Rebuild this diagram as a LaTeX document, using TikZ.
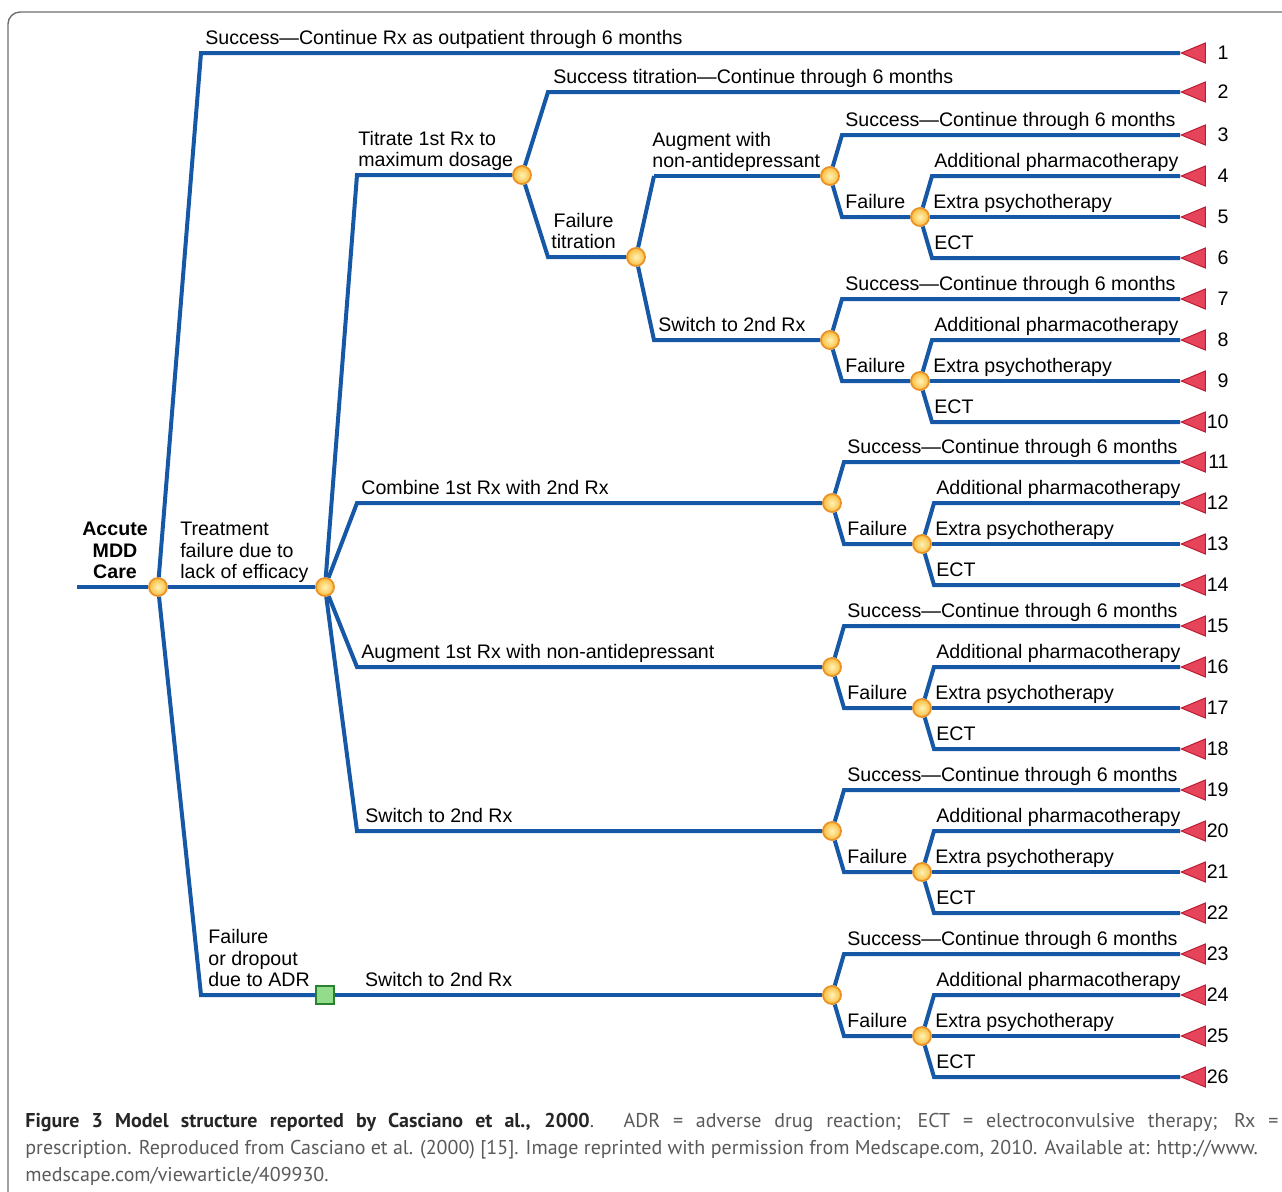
\documentclass[tikz,border=0pt]{standalone}
\usepackage{fontspec}
\setmainfont{Liberation Sans}
\newfontfamily\capfont{PT Sans}
\usetikzlibrary{shapes.geometric, positioning}

\definecolor{treeblue}{RGB}{22,88,166}
\definecolor{chanceedge}{RGB}{234,146,38}
\definecolor{chancein}{RGB}{255,244,185}
\definecolor{chanceout}{RGB}{250,188,60}
\definecolor{termred}{RGB}{230,68,90}
\definecolor{termedge}{RGB}{188,28,52}
\definecolor{decgreen}{RGB}{146,220,140}
\definecolor{decedge}{RGB}{40,130,50}
\definecolor{framegray}{RGB}{110,110,110}
\definecolor{capgray}{RGB}{90,90,90}

\tikzset{
  branch/.style={draw=treeblue, line width=2pt},
  chance/.style={circle, draw=chanceedge, line width=0.9pt, inner color=chancein,
    outer color=chanceout, minimum size=9pt, inner sep=0pt},
  decision/.style={rectangle, draw=decedge, line width=0.7pt, fill=decgreen,
    minimum size=9pt, inner sep=0pt},
  terminal/.style={isosceles triangle, isosceles triangle stretches,
    shape border rotate=180, draw=termedge, line width=0.5pt, fill=termred,
    minimum width=10pt, minimum height=12pt, inner sep=0pt, anchor=apex},
  lbl/.style={font=\fontsize{9.8}{10.8}\selectfont, inner sep=0pt, text depth=0pt, align=left},
  outnum/.style={font=\fontsize{9.8}{12}\selectfont, inner sep=0pt, anchor=east},
}

\begin{document}
\begin{tikzpicture}[x=0.5pt, y=-0.5pt]
\clip (0,0) rectangle (1282,1191);
\draw[framegray, line width=0.7pt, rounded corners=6pt] (8,12) rectangle (1310,1220);

% root and first level
\coordinate (in) at (77,587);
\node[chance] (root) at (158,587) {};
\coordinate (r1) at (201,53);
\node[terminal] (t1) at (1180,53) {};
\node[outnum] (n1) at (1229,53) {1};
\node[chance] (fail) at (325,587) {};
\coordinate (r3) at (201,995);
\node[decision] (adr) at (325,995) {};

\draw[branch] (in) -- (root);
\draw[branch] (root) -- (r1) -- (t1);
\draw[branch] (root) -- (fail);
\draw[branch] (root) -- (r3) -- (adr);

\node[lbl, align=center, font=\bfseries\fontsize{9.8}{10.8}\selectfont,
  above left=4pt and 0pt of root.west] (care) {Accute\\MDD\\Care};
\node[lbl, above right=4pt and 2pt of r1] (lr1) {Success—Continue Rx as outpatient through 6 months};
\node[lbl, above right=4pt and 6pt of root.east] (lfail) {Treatment\\failure due to\\lack of efficacy};
\node[lbl, above right=4pt and 3.5pt of r3] (lr3) {Failure\\or dropout\\due to ADR};

% lack of efficacy
\coordinate (m1) at (357,175);
\coordinate (m2) at (357,503);
\coordinate (m3) at (357,667);
\coordinate (m4) at (357,831);
\node[chance] (titr) at (522,175) {};
\coordinate (ti1) at (548,92);
\node[terminal] (t2) at (1180,92) {};
\node[outnum] (n2) at (1229,92) {2};
\coordinate (ti2) at (548,257);
\node[chance] (ftit) at (636,257) {};
\coordinate (ft1) at (654,176);
\coordinate (ft2) at (654,340);

\draw[branch] (fail) -- (m1) -- (titr);
\draw[branch] (titr) -- (ti1) -- (t2);
\draw[branch] (titr) -- (ti2) -- (ftit);

\node[lbl, above right=4pt and 0.5pt of m1] (lm1) {Titrate 1st Rx to\\maximum dosage};
\node[lbl, above right=4pt and 2pt of m2] (lm2) {Combine 1st Rx with 2nd Rx};
\node[lbl, above right=4pt and 2pt of m3] (lm3) {Augment 1st Rx with non-antidepressant};
\node[lbl, above right=4pt and 4pt of m4] (lm4) {Switch to 2nd Rx};
\node[lbl, above right=4pt and 15pt of adr.east] (ladr) {Switch to 2nd Rx};
\node[lbl, above right=4pt and 2.5pt of ti1] (lti1) {Success titration—Continue through 6 months};
\node[lbl, align=center, above right=4pt and 1.5pt of ti2] (lti2) {Failure\\titration};
\node[lbl, above right=4pt and -1pt of ft1] (lft1) {Augment with\\non-antidepressant};
\node[lbl, above right=4pt and 2pt of ft2] (lft2) {Switch to 2nd Rx};

% success / failure subtrees
\foreach \cx/\cy/\n [count=\k] in {830/176/3, 830/340/7, 832/503/11,
    832/667/15, 832/831/19, 832/995/23}{
  \pgfmathtruncatemacro\na{\n+1}
  \pgfmathtruncatemacro\nb{\n+2}
  \pgfmathtruncatemacro\nc{\n+3}
  \node[chance] (c\k) at (\cx,\cy) {};
  \coordinate (s\k) at (\cx+12,\cy-41);
  \coordinate (f\k) at (\cx+12,\cy+41);
  \node[chance] (g\k) at (\cx+90,\cy+41) {};
  \coordinate (a\k) at (\cx+102,\cy);
  \coordinate (e\k) at (\cx+102,\cy+82);
  \node[terminal] (t\n) at (1180,\cy-41) {};
  \node[terminal] (t\na) at (1180,\cy) {};
  \node[terminal] (t\nb) at (1180,\cy+41) {};
  \node[terminal] (t\nc) at (1180,\cy+82) {};
  \node[outnum] (n\n) at (1229,\cy-41) {\n};
  \node[outnum] (n\na) at (1229,\cy) {\na};
  \node[outnum] (n\nb) at (1229,\cy+41) {\nb};
  \node[outnum] (n\nc) at (1229,\cy+82) {\nc};
  \draw[branch] (c\k) -- (s\k) -- (t\n);
  \draw[branch] (c\k) -- (f\k) -- (g\k);
  \draw[branch] (g\k) -- (a\k) -- (t\na);
  \draw[branch] (g\k) -- (t\nb);
  \draw[branch] (g\k) -- (e\k) -- (t\nc);
  \node[lbl, above right=4pt and 1.5pt of s\k] (ls\k) {Success—Continue through 6 months};
  \node[lbl, above right=4pt and 1.5pt of f\k] (lf\k) {Failure};
  \node[lbl, above right=4pt and 1pt of a\k] (la\k) {Additional pharmacotherapy};
  \node[lbl, above right=4pt and 1.5pt of g\k.east] (lx\k) {Extra psychotherapy};
  \node[lbl, above right=4pt and 1pt of e\k] (le\k) {ECT};
}

\draw[branch] (ft1) -- (c1);
\draw[branch] (ftit) -- (ft1);
\draw[branch] (ftit) -- (ft2) -- (c2);
\draw[branch] (fail) -- (m2) -- (c3);
\draw[branch] (fail) -- (m3) -- (c4);
\draw[branch] (fail) -- (m4) -- (c5);
\draw[branch] (adr) -- (c6);

% caption
\node[anchor=north west, inner sep=0pt, text width=626.5pt, align=justify, text=capgray,
  font=\capfont\fontsize{10}{13.5}\selectfont] (caption) at (25,1113)
  {{\color{black!85}\bfseries Figure 3 Model structure reported by Casciano et al., 2000}. ADR = adverse drug reaction; ECT = electroconvulsive therapy; Rx =\linebreak
  prescription. Reproduced from Casciano et al. (2000) [15]. Image reprinted with permission from Medscape.com, 2010. Available at: http://www.\newline
  medscape.com/viewarticle/409930.};
\end{tikzpicture}
\end{document}
